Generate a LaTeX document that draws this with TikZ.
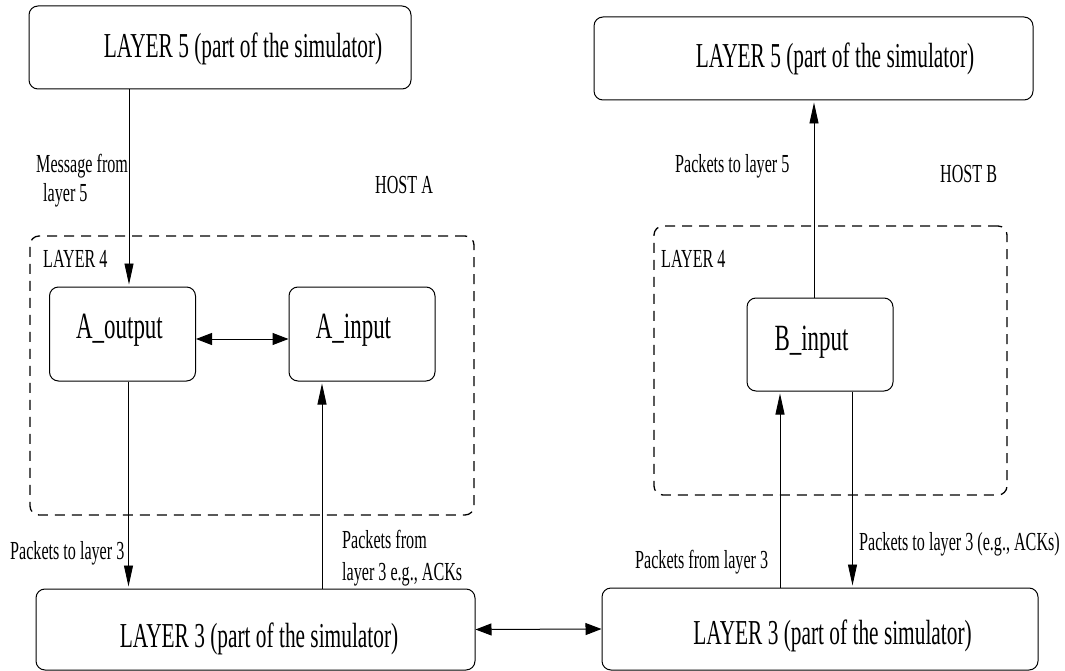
\documentclass[tikz,border=0pt]{standalone}
\usepackage{fontspec}
\setmainfont{Liberation Serif}
\newfontfamily\tfont[FakeStretch=0.61]{Liberation Serif}
\newfontfamily\sfont[FakeStretch=0.62]{Liberation Serif}
\usetikzlibrary{arrows.meta}
\begin{document}
\begin{tikzpicture}[x=1pt,y=-1pt,
  box/.style={draw, line width=1pt, rounded corners=9pt, inner sep=0pt,
    font=\tfont\fontsize{35}{38}\selectfont},
  fbox/.style={box, font=\sfont\fontsize{37}{40}\selectfont,
    minimum width=146pt, minimum height=94pt, text height=16pt, text depth=7pt},
  dbox/.style={draw, line width=1.3pt, dash pattern=on 10pt off 7pt, rounded corners=9pt, inner sep=0pt},
  lbl/.style={inner sep=0pt, anchor=base west, font=\sfont\fontsize{26}{30}\selectfont},
  varrow/.style={line width=0.9pt, shorten >=2pt, -{Triangle[length=21pt,width=9pt]}},
  harrow/.style={line width=1pt, {Triangle[length=16pt,width=12pt]}-{Triangle[length=16pt,width=12pt]}}
]
\useasboundingbox (0,0) rectangle (1065,671);

% containers (LAYER 4)
\node[dbox, minimum width=444pt, minimum height=279pt] (l4a) at (252,375.5) {};
\node[dbox, minimum width=353pt, minimum height=269pt] (l4b) at (830.5,360.5) {};

% layer 5 boxes
\node[box, minimum width=382pt, minimum height=83pt, text height=25pt, text depth=4pt]
  (l5a) at (220,47.5) {\hspace*{46pt}LAYER 5 (part of the simulator)};
\node[box, minimum width=439pt, minimum height=83pt, text height=24pt, text depth=5pt]
  (l5b) at (813.5,58.5) {\hspace*{43pt}LAYER 5 (part of the simulator)};

% layer 3 boxes
\node[box, minimum width=439pt, minimum height=81pt, text height=38pt, text depth=3pt]
  (l3a) at (255.5,629.5) {\hspace*{7pt}LAYER 3 (part of the simulator)};
\node[box, minimum width=436pt, minimum height=82pt, text height=34pt, text depth=4pt]
  (l3b) at (820,629) {\hspace*{25pt}LAYER 3 (part of the simulator)};

% layer 4 entities
\node[fbox] (aout) at (122.5,334) {A\_output\hspace*{6pt}};
\node[fbox] (ain) at (362,334) {A\_input\hspace*{17pt}};
\node[fbox, minimum height=93pt, text height=17pt, text depth=6pt] (bin) at (820,344.5) {B\_input\hspace*{17pt}};

% labels
\node[lbl] (tmsg1) at (36,173) {Message from};
\node[lbl] (tmsg2) at (43,202) {layer 5};
\node[lbl] (thosta) at (375,194) {HOST A};
\node[lbl] (tl4a) at (43,267) {LAYER 4};
\node[lbl] (tp5) at (675,173) {Packets to layer 5};
\node[lbl] (thostb) at (940,183) {HOST B};
\node[lbl] (tl4b) at (661,267) {LAYER 4};
\node[lbl] (tpto3a) at (10,559) {Packets to layer 3};
\node[lbl] (tpfrom1) at (342,548) {Packets from};
\node[lbl] (tpfrom2) at (342,580) {layer 3 e.g., ACKs};
\node[lbl] (tpfromb) at (635,568) {Packets from layer 3};
\node[lbl] (tptob) at (859,550) {Packets to layer 3 (e.g., ACKs)};

% connectors
\draw[varrow] ([xshift=6.5pt]aout.north |- l5a.south) -- ([xshift=6.5pt]aout.north);
\draw[varrow] ([xshift=6pt]aout.south) -- ([xshift=6pt]aout.south |- l3a.north);
\draw[varrow] ([xshift=-40pt]ain.south |- l3a.north) -- ([xshift=-40pt]ain.south);
\draw[harrow] ([yshift=-5pt]aout.east) -- ([yshift=-5pt]ain.west);
\draw[harrow] (l3a.east) -- (l3b.west);
\draw[varrow] ([xshift=-40pt]bin.south |- l3b.north) -- ([xshift=-40pt]bin.south);
\draw[varrow] ([xshift=32.5pt]bin.south) -- ([xshift=32.5pt]bin.south |- l3b.north);
\draw[varrow] ([xshift=-6pt]bin.north) -- ([xshift=-6pt]bin.north |- l5b.south);
\end{tikzpicture}
\end{document}
